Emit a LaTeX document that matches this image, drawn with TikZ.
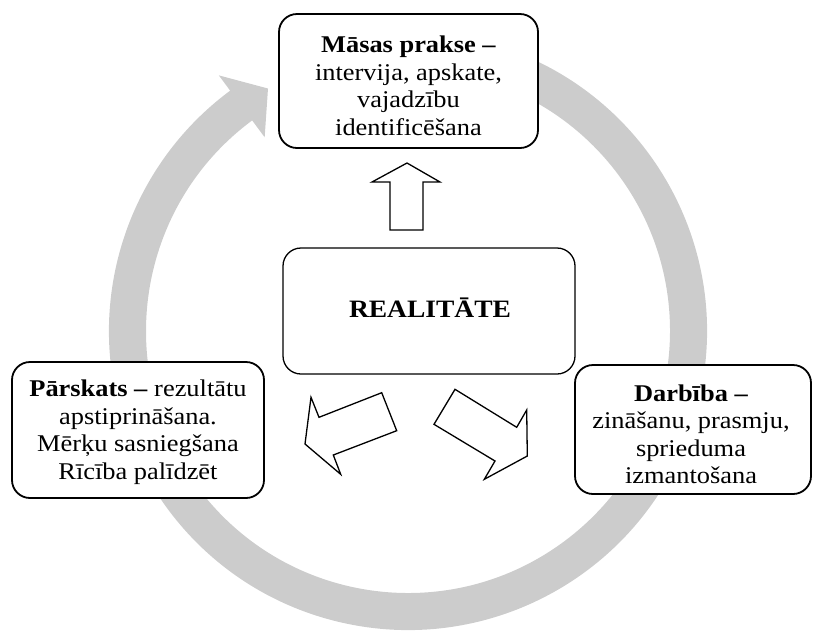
\documentclass[tikz,border=0pt]{standalone}
\usepackage{fontspec}
\setmainfont{Liberation Serif}[FakeStretch=1.1]
\usetikzlibrary{calc}
\definecolor{arcgray}{RGB}{204,204,204}
\begin{document}
\begin{tikzpicture}[x=1pt,y=-1pt,
  box/.style={draw=black, line width=1.8pt, rounded corners=18pt, fill=white, inner sep=0pt},
  realbox/.style={box, line width=1.3pt},
  boxtext/.style={align=center, inner sep=0pt, font=\fontsize{24}{27.5}\selectfont},
  realtext/.style={inner sep=0pt, font=\fontsize{25}{30}\selectfont\bfseries},
  blockarrow/.style={draw=black, line width=1.3pt, fill=white, line join=miter}]
\useasboundingbox (0,0) rectangle (813,633);
\coordinate (c) at (408,331);
% gray circular arrow
\fill[arcgray] (c) ++(-75:299) arc[start angle=-75,end angle=233.5,radius=299]
  -- ($(c)+(233.5:318)$) -- ($(c)+(240:280)$) -- ($(c)+(233.5:241)$) -- ($(c)+(233.5:262)$)
  arc[start angle=233.5,end angle=-75,radius=262] -- cycle;
% boxes
\node[box, minimum width=259pt, minimum height=134pt] (top) at (408.5,81) {};
\node[boxtext] (toptext) at ($(top.center)+(0,5)$)
  {\textbf{Māsas prakse –}\\intervija, apskate,\\vajadzību\\identificēšana};
\node[realbox, minimum width=292pt, minimum height=126pt] (real) at (429,311) {};
\node[realtext] (realtxt) at ($(real.center)+(1,-3)$) {REALITĀTE};
\node[box, minimum width=252pt, minimum height=136pt] (left) at (138,430) {};
\node[boxtext] (lefttext) at ($(left.center)+(0,2)$)
  {\textbf{Pārskats –} rezultātu\\apstiprināšana.\\Mērķu sasniegšana\\Rīcība palīdzēt};
\node[box, minimum width=236pt, minimum height=129pt] (right) at (693,429.5) {};
\node[boxtext] (righttext) at ($(right.center)+(-2,5)$)
  {\textbf{Darbība –}\\zināšanu, prasmju,\\sprieduma\\izmantošana};
% block arrows
\draw[blockarrow] (407,163) -- (440,182) -- (423,182) -- (423,230) -- (390,230) -- (390,182) -- (372,182) -- cycle;
\draw[blockarrow] (381.7,392.7) -- (396.7,430.7) -- (333.3,455) -- (340.7,474.3) -- (305,444) -- (311,397.3) -- (319,417.3) -- cycle;
\draw[blockarrow] (455,389.3) -- (516.7,427.3) -- (526.7,410) -- (527.3,456) -- (484.3,479.3) -- (495,461) -- (434,424.3) -- cycle;
\end{tikzpicture}
\end{document}
